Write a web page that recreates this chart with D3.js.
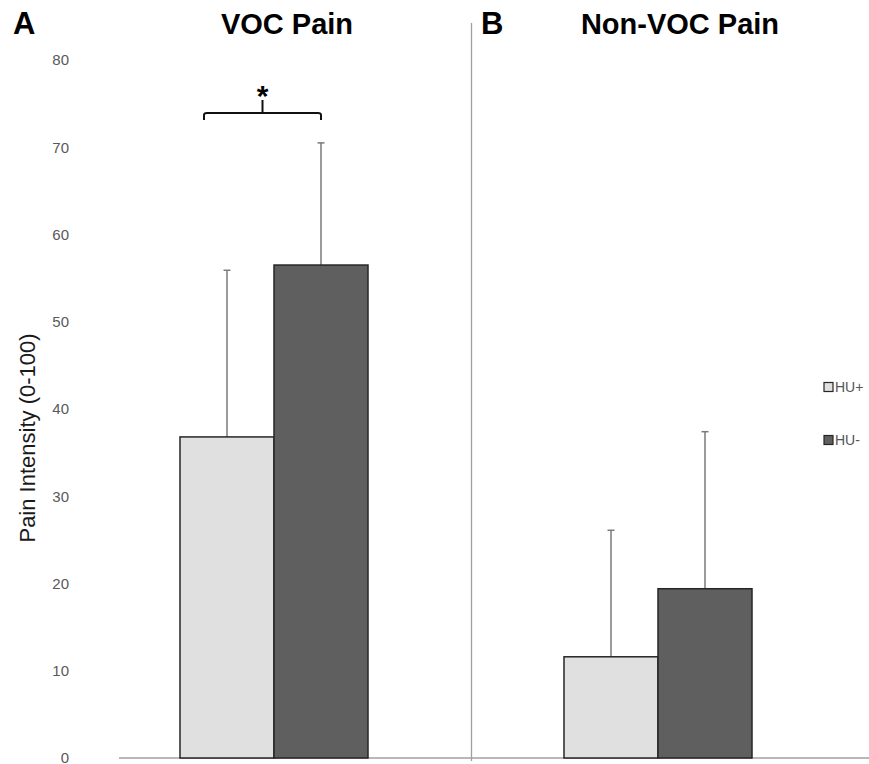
<!DOCTYPE html>
<html>
<head>
<meta charset="utf-8">
<title>VOC and non-VOC pain by HU use</title>
<style>
  body { margin: 0; background: #fff; }
  svg { display: block; font-family: "Liberation Sans", Arial, sans-serif; }
</style>
</head>
<body>
<svg></svg>
<script src="https://d3js.org/d3.v7.min.js"></script>
<script>
// data
const panels = ["VOC Pain", "Non-VOC Pain"];
const panelLetters = ["A", "B"];
const series = ["HU+", "HU-"];
const meanHUplus = [36.8, 11.6];
const meanHUminus = [56.5, 19.4];
const sdHUplus = [19.1, 14.5];
const sdHUminus = [14.0, 18.0];
const yTicks = [0, 10, 20, 30, 40, 50, 60, 70, 80];

const width = 869, height = 764;
const svg = d3.select("svg").attr("width", width).attr("height", height);

const colors = { "HU+": "#e0e0e0", "HU-": "#5f5f5f" };

const y = d3.scaleLinear().domain([0, 80]).range([758, 60]);
const x0 = d3.scaleBand().domain(panels).range([82, 850]);
const x1 = d3.scaleBand().domain(series)
    .range([x0.bandwidth() / 2 - 94, x0.bandwidth() / 2 + 94]);

const rows = [];
panels.forEach((p, i) => {
    rows.push({ panel: p, s: "HU+", mean: meanHUplus[i], sd: sdHUplus[i] });
    rows.push({ panel: p, s: "HU-", mean: meanHUminus[i], sd: sdHUminus[i] });
});

// baseline + divider
svg.append("line")
    .attr("x1", 119).attr("x2", width)
    .attr("y1", y(0)).attr("y2", y(0))
    .attr("stroke", "#a0a0a0").attr("stroke-width", 1.3);
svg.append("line")
    .attr("x1", 471.5).attr("x2", 471.5)
    .attr("y1", 23).attr("y2", y(0) + 3)
    .attr("stroke", "#a0a0a0").attr("stroke-width", 1.3);

// y tick labels (no axis line)
svg.append("g").selectAll("text")
    .data(yTicks).enter().append("text")
    .attr("x", 69).attr("y", d => y(d))
    .attr("dy", "0.35em")
    .attr("text-anchor", "end")
    .attr("font-size", 15)
    .attr("fill", "#595959")
    .text(d => d);

svg.append("text")
    .attr("transform", "translate(35,438) rotate(-90)")
    .attr("text-anchor", "middle")
    .attr("font-size", 22)
    .attr("fill", "#1a1a1a")
    .text("Pain Intensity (0-100)");

// error bars (upper only), drawn behind bars
const eb = svg.append("g").selectAll("g")
    .data(rows).enter().append("g")
    .attr("transform", d => "translate(" + (x0(d.panel) + x1(d.s) + x1.bandwidth() / 2) + ",0)");
eb.append("line")
    .attr("y1", d => y(d.mean)).attr("y2", d => y(d.mean + d.sd))
    .attr("stroke", "#7a7a7a").attr("stroke-width", 1.5);
eb.append("line")
    .attr("x1", -3.5).attr("x2", 3.5)
    .attr("y1", d => y(d.mean + d.sd)).attr("y2", d => y(d.mean + d.sd))
    .attr("stroke", "#7a7a7a").attr("stroke-width", 1.5);

// bars
svg.append("g").selectAll("rect")
    .data(rows).enter().append("rect")
    .attr("x", d => x0(d.panel) + x1(d.s))
    .attr("y", d => y(d.mean))
    .attr("width", x1.bandwidth())
    .attr("height", d => y(0) - y(d.mean))
    .attr("fill", d => colors[d.s])
    .attr("stroke", "#262626")
    .attr("stroke-width", 1.5);

// panel titles
const titleX = [287, 680], letterX = [13, 481];
panels.forEach((p, i) => {
    svg.append("text")
        .attr("x", letterX[i]).attr("y", 34)
        .attr("font-size", 31).attr("font-weight", "bold")
        .text(panelLetters[i]);
    svg.append("text")
        .attr("x", titleX[i]).attr("y", 34)
        .attr("text-anchor", "middle")
        .attr("font-size", 29).attr("font-weight", "bold")
        .text(p);
});

// significance bracket over VOC pain
const bx1 = x0(panels[0]) + x1("HU+") + x1.bandwidth() / 2 - 23;
const bx2 = x0(panels[0]) + x1("HU-") + x1.bandwidth() / 2;
const bmid = (bx1 + bx2) / 2, by = 113;
svg.append("path")
    .attr("d", "M" + bx1 + "," + (by + 7) + " L" + bx1 + "," + (by + 2) +
        " Q" + bx1 + "," + by + " " + (bx1 + 3) + "," + by +
        " L" + (bx2 - 3) + "," + by +
        " Q" + bx2 + "," + by + " " + bx2 + "," + (by + 2) +
        " L" + bx2 + "," + (by + 7) +
        " M" + bmid + "," + by + " L" + bmid + "," + (by - 13))
    .attr("fill", "none").attr("stroke", "#111").attr("stroke-width", 2);
svg.append("text")
    .attr("x", bmid).attr("y", 106)
    .attr("text-anchor", "middle")
    .attr("font-size", 30)
    .attr("font-weight", "bold")
    .text("*");

// legend
const legend = svg.append("g").selectAll("g")
    .data(series).enter().append("g")
    .attr("transform", (d, i) => "translate(824," + (387 + i * 53) + ")");
legend.append("rect")
    .attr("x", 0).attr("y", -4.5).attr("width", 9).attr("height", 9)
    .attr("fill", d => colors[d]).attr("stroke", "#262626").attr("stroke-width", 1.2);
legend.append("text")
    .attr("x", 11).attr("dy", "0.35em")
    .attr("font-size", 14).attr("fill", "#555")
    .text(d => d);
</script>
</body>
</html>
